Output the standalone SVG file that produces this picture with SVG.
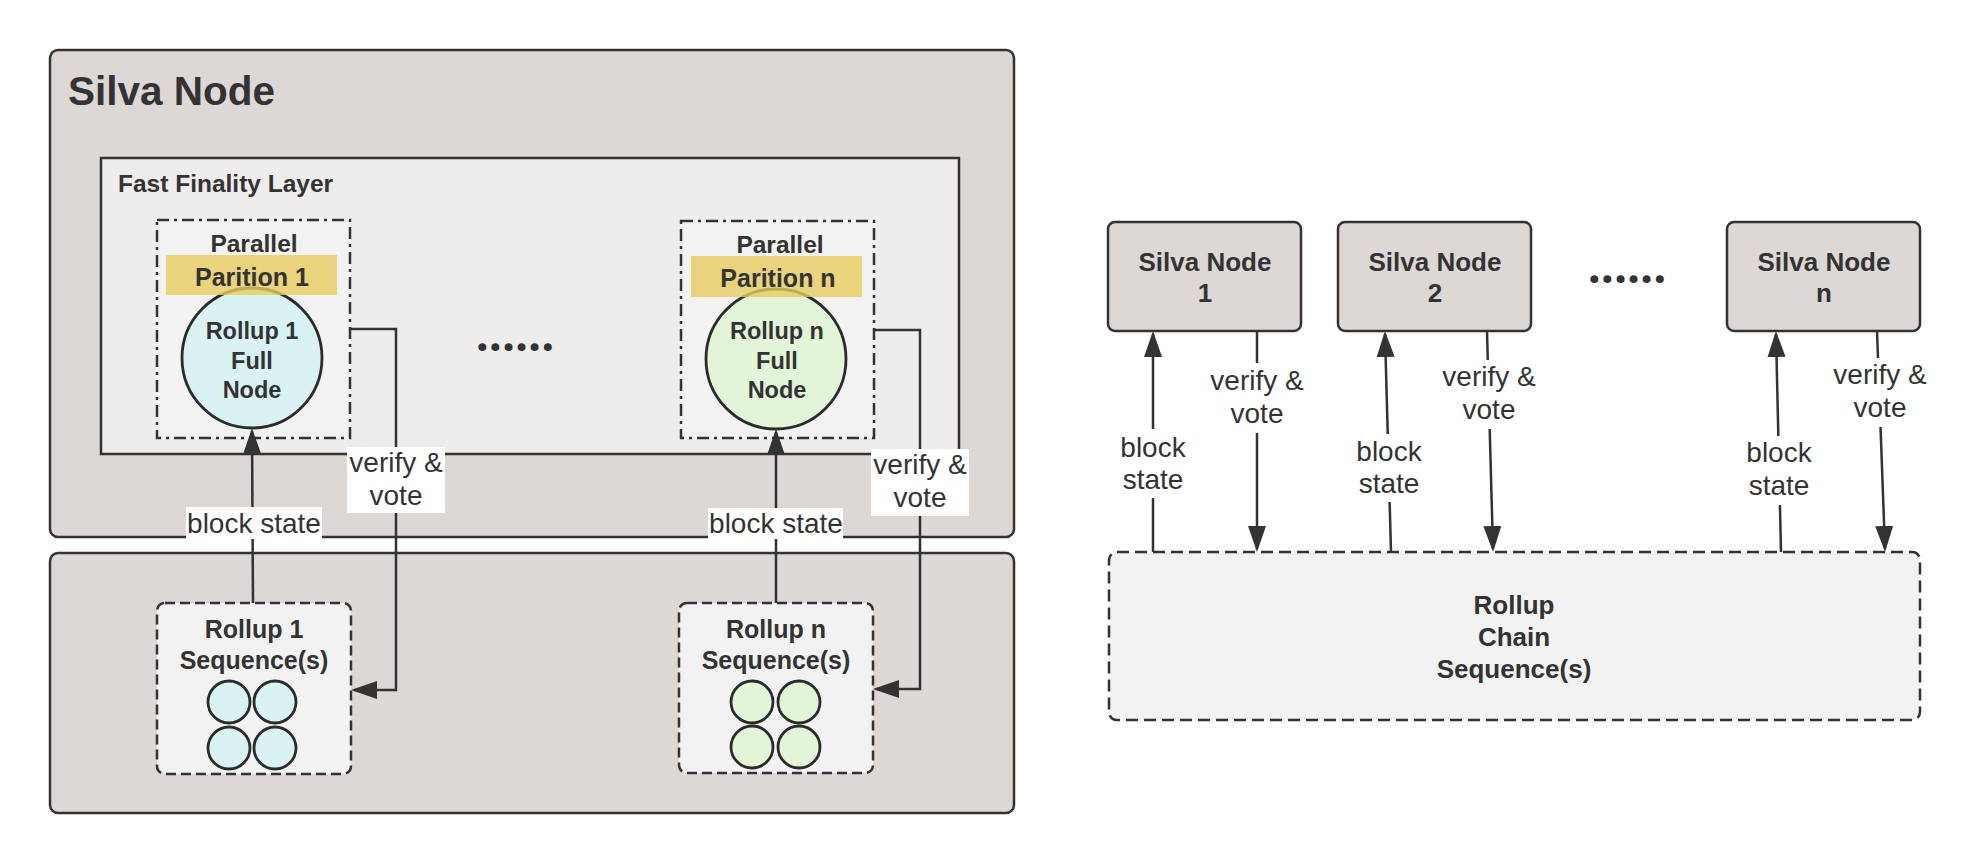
<svg xmlns="http://www.w3.org/2000/svg" width="1980" height="862" viewBox="0 0 1980 862">
<style>
  .box { stroke:#333; stroke-width:2.5; }
  .outer { fill:#ddd8d6; }
  .ffl { fill:#efecec; }
  .part { fill:#f2f2f2; stroke:#333; stroke-width:2.5; stroke-dasharray:12 5 3 5; }
  .seq { fill:#f2f2f2; stroke:#333; stroke-width:2.5; stroke-dasharray:10 5; }
  .chain { fill:#f2f2f2; stroke:#333; stroke-width:2.5; stroke-dasharray:12 6; }
  .band { fill:#e6cc5c; opacity:0.8; }
  .c1 { fill:#d9f3f5; stroke:#2b2b2b; stroke-width:2.8; }
  .cn { fill:#e3f5d9; stroke:#2b2b2b; stroke-width:2.8; }
  .sb { font-family:"Liberation Sans",Arial,sans-serif; font-weight:700; fill:#333; font-size:25px; text-anchor:middle; }
  .rg { font-family:"Liberation Sans",Arial,sans-serif; font-weight:400; fill:#333; font-size:28px; text-anchor:middle; }
  .dots { font-family:"Open Sans","Noto Sans",sans-serif; font-weight:700; fill:#333; font-size:46px; text-anchor:middle; }
  .wire { fill:none; stroke:#333; stroke-width:2.5; marker-end:url(#arr); }
  .lbl { fill:#ffffff; }
</style>
<defs>
  <marker id="arr" markerUnits="userSpaceOnUse" markerWidth="26" markerHeight="18" viewBox="0 0 26 18" refX="23" refY="9" orient="auto">
    <path d="M0,0 L26,9 L0,18 z" fill="#333"/>
  </marker>
</defs>

<g id="silva-node-main">
  <rect class="box outer" x="50" y="50" width="964" height="487" rx="8"/>
  <text x="68" y="105" class="sb" style="font-size:40.5px;text-anchor:start">Silva Node</text>
</g>

<g id="sequencer-area">
  <rect class="box outer" x="50" y="553" width="964" height="260" rx="8"/>
</g>

<g id="fast-finality-layer">
  <rect class="box ffl" x="101" y="158" width="858" height="296"/>
  <text x="118" y="192" class="sb" style="font-size:24.5px;text-anchor:start">Fast Finality Layer</text>
  <text x="515" y="351" class="dots">......</text>
</g>

<g id="partition-1">
  <rect class="part" x="157" y="220" width="193" height="218"/>
  <text x="254" y="252" class="sb" style="font-size:24.5px">Parallel</text>
  <circle class="c1" cx="252" cy="358" r="70"/>
  <rect class="band" x="166" y="255" width="171" height="40"/>
  <text x="252" y="286" class="sb">Parition 1</text>
  <text class="sb" style="font-size:23.5px" y="339"><tspan x="252">Rollup 1</tspan><tspan x="252" dy="29.5">Full</tspan><tspan x="252" dy="29.5">Node</tspan></text>
</g>

<g id="partition-n">
  <rect class="part" x="681" y="221" width="193" height="217"/>
  <text x="780" y="253" class="sb" style="font-size:24.5px">Parallel</text>
  <circle class="cn" cx="776" cy="359" r="70"/>
  <rect class="band" x="691" y="256" width="171" height="41"/>
  <text x="778" y="287" class="sb">Parition n</text>
  <text class="sb" style="font-size:23.5px" y="339"><tspan x="777">Rollup n</tspan><tspan x="777" dy="29.5">Full</tspan><tspan x="777" dy="29.5">Node</tspan></text>
</g>

<g id="rollup-1-sequence">
  <rect class="seq" x="157" y="603" width="194" height="171" rx="8"/>
  <text class="sb" y="638"><tspan x="254">Rollup 1</tspan><tspan x="254" dy="31">Sequence(s)</tspan></text>
  <circle class="c1" cx="229" cy="702" r="21"/>
  <circle class="c1" cx="275" cy="702" r="21"/>
  <circle class="c1" cx="229" cy="748" r="21"/>
  <circle class="c1" cx="275" cy="748" r="21"/>
</g>

<g id="rollup-n-sequence">
  <rect class="seq" x="679" y="603" width="194" height="170" rx="8"/>
  <text class="sb" y="638"><tspan x="776">Rollup n</tspan><tspan x="776" dy="31">Sequence(s)</tspan></text>
  <circle class="cn" cx="752" cy="702" r="21"/>
  <circle class="cn" cx="799" cy="702" r="21"/>
  <circle class="cn" cx="752" cy="747" r="21"/>
  <circle class="cn" cx="799" cy="747" r="21"/>
</g>

<g id="silva-node-1">
  <rect class="box outer" x="1108" y="222" width="193" height="109" rx="7"/>
  <text class="sb" style="font-size:26px" y="271"><tspan x="1205">Silva Node</tspan><tspan x="1205" dy="31">1</tspan></text>
</g>

<g id="silva-node-2">
  <rect class="box outer" x="1338" y="222" width="193" height="109" rx="7"/>
  <text class="sb" style="font-size:26px" y="271"><tspan x="1435">Silva Node</tspan><tspan x="1435" dy="31">2</tspan></text>
</g>

<g id="silva-node-ellipsis">
  <text x="1627" y="283" class="dots">......</text>
</g>

<g id="silva-node-n">
  <rect class="box outer" x="1727" y="222" width="193" height="109" rx="7"/>
  <text class="sb" style="font-size:26px" y="271"><tspan x="1824">Silva Node</tspan><tspan x="1824" dy="31">n</tspan></text>
</g>

<g id="rollup-chain-sequence">
  <rect class="chain" x="1109" y="552" width="811" height="168" rx="8"/>
  <text class="sb" style="font-size:26px" y="614"><tspan x="1514">Rollup</tspan><tspan x="1514" dy="32">Chain</tspan><tspan x="1514" dy="32">Sequence(s)</tspan></text>
</g>

<g id="connectors">
  <path class="wire" d="M253,603 L252,431"/>
  <path class="wire" d="M350,329 H396 V690 H354"/>
  <path class="wire" d="M776,603 L776,432"/>
  <path class="wire" d="M874,330 H920 V689 H876"/>
  <rect class="lbl" x="186" y="507" width="136" height="32"/>
  <text x="254" y="533" class="rg">block state</text>
  <rect class="lbl" x="347" y="447" width="98" height="66"/>
  <text class="rg" y="472"><tspan x="396">verify &amp;</tspan><tspan x="396" dy="33">vote</tspan></text>
  <rect class="lbl" x="708" y="508" width="135" height="31"/>
  <text x="776" y="533" class="rg">block state</text>
  <rect class="lbl" x="871" y="449" width="98" height="67"/>
  <text class="rg" y="474"><tspan x="920">verify &amp;</tspan><tspan x="920" dy="33">vote</tspan></text>

  <path class="wire" d="M1153,552 L1153,334"/>
  <path class="wire" d="M1257,331 L1257,549"/>
  <path class="wire" d="M1391,552 L1385,334"/>
  <path class="wire" d="M1487,331 L1493,549"/>
  <path class="wire" d="M1781,552 L1776,334"/>
  <path class="wire" d="M1877,331 L1885,549"/>

  <rect class="lbl" x="1119" y="429" width="68" height="69"/>
  <text class="rg" y="457"><tspan x="1153">block</tspan><tspan x="1153" dy="32">state</tspan></text>
  <rect class="lbl" x="1207" y="363" width="100" height="70"/>
  <text class="rg" y="390"><tspan x="1257">verify &amp;</tspan><tspan x="1257" dy="33">vote</tspan></text>

  <rect class="lbl" x="1355" y="434" width="68" height="68"/>
  <text class="rg" y="461"><tspan x="1389">block</tspan><tspan x="1389" dy="32">state</tspan></text>
  <rect class="lbl" x="1439" y="360" width="100" height="69"/>
  <text class="rg" y="386"><tspan x="1489">verify &amp;</tspan><tspan x="1489" dy="33">vote</tspan></text>

  <rect class="lbl" x="1745" y="436" width="68" height="69"/>
  <text class="rg" y="462"><tspan x="1779">block</tspan><tspan x="1779" dy="33">state</tspan></text>
  <rect class="lbl" x="1830" y="358" width="100" height="69"/>
  <text class="rg" y="384"><tspan x="1880">verify &amp;</tspan><tspan x="1880" dy="33">vote</tspan></text>
</g>
</svg>
